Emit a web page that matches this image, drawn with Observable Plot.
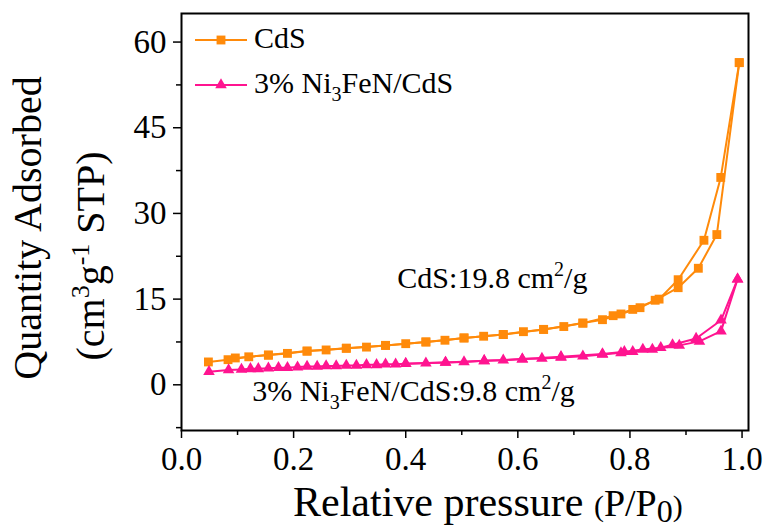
<!DOCTYPE html>
<html><head><meta charset="utf-8">
<script src="https://cdn.jsdelivr.net/npm/d3@7"></script>
<script src="https://cdn.jsdelivr.net/npm/@observablehq/plot@0.6"></script>
<style>body{margin:0;background:#fff;} svg{display:block}</style>
</head><body><div id="chart"></div>
<script>
// CdS (orange squares): adsorption and desorption branches
const cdsAdsP = [0.048, 0.083, 0.120, 0.155, 0.189, 0.224, 0.258, 0.294, 0.330, 0.364, 0.400, 0.436, 0.470, 0.504, 0.539, 0.574, 0.610, 0.646, 0.682, 0.716, 0.751, 0.784, 0.818, 0.845, 0.886, 0.922, 0.955, 0.995];
const cdsAdsQ = [4.0, 4.4, 4.9, 5.2, 5.5, 5.9, 6.1, 6.4, 6.6, 6.9, 7.2, 7.5, 7.8, 8.2, 8.5, 8.8, 9.3, 9.7, 10.2, 10.8, 11.4, 12.4, 13.5, 14.8, 17.0, 20.4, 26.3, 56.4];
const cdsDesP = [0.995, 0.962, 0.932, 0.886, 0.852, 0.805, 0.770, 0.716, 0.646, 0.574, 0.504, 0.436, 0.364, 0.294, 0.224, 0.155, 0.096];
const cdsDesQ = [56.4, 36.3, 25.3, 18.4, 15.0, 13.2, 12.1, 10.8, 9.7, 8.8, 8.2, 7.5, 6.9, 6.4, 5.9, 5.2, 4.7];
// 3% Ni3FeN/CdS (pink triangles)
const niAdsP = [0.049, 0.084, 0.107, 0.123, 0.137, 0.155, 0.173, 0.189, 0.207, 0.224, 0.242, 0.258, 0.276, 0.294, 0.312, 0.330, 0.348, 0.364, 0.382, 0.400, 0.436, 0.471, 0.504, 0.540, 0.574, 0.608, 0.643, 0.677, 0.716, 0.751, 0.784, 0.805, 0.840, 0.888, 0.924, 0.9625, 0.992];
const niAdsQ = [2.3, 2.6, 2.7, 2.8, 2.8, 2.9, 3.0, 3.0, 3.1, 3.2, 3.2, 3.3, 3.3, 3.4, 3.4, 3.5, 3.5, 3.6, 3.6, 3.7, 3.8, 3.9, 4.0, 4.2, 4.3, 4.5, 4.6, 4.8, 5.0, 5.3, 5.6, 5.8, 6.2, 6.9, 7.6, 9.4, 18.5];
const niDesP = [0.992, 0.9625, 0.918, 0.876, 0.855, 0.823, 0.790, 0.751, 0.677, 0.608, 0.540, 0.471, 0.400];
const niDesQ = [18.5, 11.3, 8.1, 7.0, 6.5, 6.2, 5.8, 5.4, 4.9, 4.5, 4.2, 3.9, 3.7];

const xTicks = [0, 0.2, 0.4, 0.6, 0.8, 1.0];
const xMinor = [0.1, 0.3, 0.5, 0.7, 0.9];
const yTicks = [0, 15, 30, 45, 60];
const yMinor = [-7.5, 7.5, 22.5, 37.5, 52.5];
const seriesNames = ["CdS", "3% Ni3FeN/CdS"];

const rows = (p, q) => p.map((v, i) => ({p: v, q: q[i]}));
const cdsAds = rows(cdsAdsP, cdsAdsQ), cdsDes = rows(cdsDesP, cdsDesQ);
const niAds = rows(niAdsP, niAdsQ), niDes = rows(niDesP, niDesQ);

const ORANGE = "#ff8a0a", PINK = "#ff1490";
const FONT = "'Liberation Serif','Times New Roman',serif";

const plot = Plot.plot({
  width: 769, height: 531,
  marginLeft: 181, marginRight: 21, marginTop: 13, marginBottom: 101,
  style: {fontFamily: FONT, background: "#fff", color: "#000", overflow: "visible"},
  x: {domain: [0, 1.0115]},
  y: {domain: [-8, 65]},
  marks: [
    Plot.axisY(yMinor, {tickSize: 5, tickFormat: () => "", label: null, strokeWidth: 1.5}),
    Plot.axisY(yTicks, {tickSize: 8, tickPadding: 7, fontSize: 33, label: null, strokeWidth: 1.5}),
    Plot.axisX(xMinor, {tickSize: 5, tickFormat: () => "", label: null, strokeWidth: 1.5}),
    Plot.axisX(xTicks, {tickSize: 8, tickPadding: 8, fontSize: 33, label: null, strokeWidth: 1.5, tickFormat: d => d.toFixed(1)}),
    Plot.line(cdsAds, {x: "p", y: "q", stroke: ORANGE, strokeWidth: 2}),
    Plot.line(cdsDes, {x: "p", y: "q", stroke: ORANGE, strokeWidth: 2}),
    Plot.line(niAds, {x: "p", y: "q", stroke: PINK, strokeWidth: 2}),
    Plot.line(niDes, {x: "p", y: "q", stroke: PINK, strokeWidth: 2}),
    Plot.dot(cdsDes, {x: "p", y: "q", symbol: "square", r: 5, fill: ORANGE}),
    Plot.dot(cdsAds, {x: "p", y: "q", symbol: "square", r: 5, fill: ORANGE}),
    Plot.dot(niDes, {x: "p", y: "q", symbol: "triangle", r: 4.3, fill: PINK}),
    Plot.dot(niAds, {x: "p", y: "q", symbol: "triangle", r: 4.3, fill: PINK}),
    Plot.frame({stroke: "#000", strokeWidth: 2})
  ]
});

const svg = d3.select(plot);
const sx = plot.scale("x"), sy = plot.scale("y");

function rich(g, x, y, parts, size, attrs = {}) {
  const t = g.append("text").attr("x", x).attr("y", y)
    .attr("font-family", FONT).attr("font-size", size).attr("fill", "#000")
    .attr("text-anchor", "start");
  for (const k in attrs) t.attr(k, attrs[k]);
  for (const p of parts) {
    const s = t.append("tspan").text(p.t);
    if (p.size) s.attr("font-size", p.size);
    if (p.dy) s.attr("dy", p.dy);
  }
  return t;
}

// Y axis title (two lines)
rich(svg, 0, 0, [{t: "Quantity Adsorbed"}], 40, {transform: "translate(41,228) rotate(-90)", "text-anchor": "middle"});
rich(svg, 0, 0, [
  {t: "(cm"}, {t: "3", size: 26, dy: -15}, {t: "g", dy: 15}, {t: "-1", size: 26, dy: -15}, {t: " STP)", dy: 15}
], 40, {transform: "translate(104,256) rotate(-90)", "text-anchor": "middle"});

// X axis title
rich(svg, 293, 516, [
  {t: "Relative pressure "}, {t: "(", size: 30}, {t: "P/P", size: 38}, {t: "0", size: 32, dy: 6}, {t: ")", size: 30, dy: -6}
], 42);

// Legend
const leg = svg.append("g");
[[seriesNames[0], ORANGE, d3.symbolSquare, 40], [seriesNames[1], PINK, d3.symbolTriangle, 85]].forEach(([name, col, sym, y], i) => {
  leg.append("line").attr("x1", 195).attr("x2", 247).attr("y1", y).attr("y2", y).attr("stroke", col).attr("stroke-width", 2);
  leg.append("path").attr("d", d3.symbol(sym, i === 0 ? Math.PI * 25 : Math.PI * 4.3 * 4.3)()).attr("transform", `translate(221,${y})`).attr("fill", col);
  if (i === 0) rich(leg, 254, y + 8, [{t: "CdS"}], 30);
  else rich(leg, 254, y + 8, [{t: "3% Ni"}, {t: "3", size: 20, dy: 8}, {t: "FeN/CdS", dy: -8}], 30);
});

// Annotations (placed in data coordinates)
rich(svg, sx.apply(0.386), sy.apply(16.8), [{t: "CdS:19.8 cm"}, {t: "2", size: 20, dy: -12}, {t: "/g", dy: 12}], 30);
rich(svg, sx.apply(0.127), sy.apply(-3.0), [{t: "3% Ni"}, {t: "3", size: 20, dy: 8}, {t: "FeN/CdS:9.8 cm", dy: -8}, {t: "2", size: 20, dy: -12}, {t: "/g", dy: 12}], 30);

document.getElementById("chart").appendChild(plot);
</script>
</body></html>
